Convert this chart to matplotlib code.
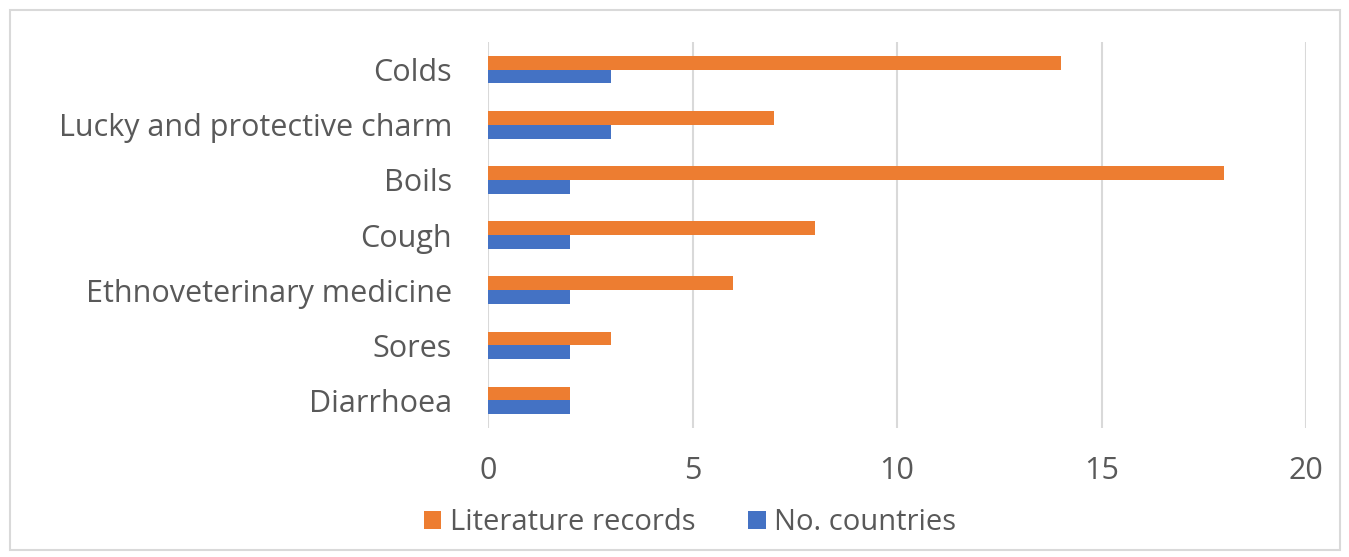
import matplotlib.pyplot as plt
from matplotlib.patches import Rectangle

# data
categories = ["Colds", "Lucky and protective charm", "Boils", "Cough",
              "Ethnoveterinary medicine", "Sores", "Diarrhoea"]
literature_records = [14, 7, 18, 8, 6, 3, 2]
no_countries = [3, 3, 2, 2, 2, 2, 2]

orange = "#ED7D31"
blue = "#4472C4"
txt = "#595959"

plt.rcParams["font.family"] = ["Open Sans", "DejaVu Sans"]

fig = plt.figure(figsize=(13.49, 5.57), dpi=100)
ax = fig.add_axes([488 / 1349, 1 - 428 / 557, (1306 - 488) / 1349, (428 - 42) / 557])

# outer frame like the excel chart area
fig.patches.append(Rectangle((10 / 1349, 7 / 557), 1330 / 1349, 540 / 557,
                             transform=fig.transFigure, fill=False,
                             edgecolor="#D9D9D9", linewidth=1.5))

y = list(range(len(categories)))
h = 0.25
ax.barh([i - h / 2 for i in y], literature_records, height=h, color=orange,
        label="Literature records", zorder=3)
ax.barh([i + h / 2 for i in y], no_countries, height=h, color=blue,
        label="No. countries", zorder=3)

ax.set_ylim(len(categories) - 0.5, -0.5)
ax.set_xlim(0, 20)
ax.set_xticks([0, 5, 10, 15, 20])
ax.set_yticks(y)
ax.set_yticklabels(categories)
ax.tick_params(axis="both", length=0, labelsize=22, labelcolor=txt)
ax.tick_params(axis="x", pad=20)
ax.tick_params(axis="y", pad=26)

ax.grid(axis="x", color="#D9D9D9", linewidth=1.5, zorder=0)
for s in ax.spines.values():
    s.set_visible(False)

fig.legend(loc="center", bbox_to_anchor=(690 / 1349, 1 - 523 / 557), ncol=2,
           frameon=False, fontsize=21, labelcolor=txt, handlelength=0.6,
           handleheight=0.6, handletextpad=0.3, columnspacing=1.8)

fig.savefig("out.png", dpi=100)
